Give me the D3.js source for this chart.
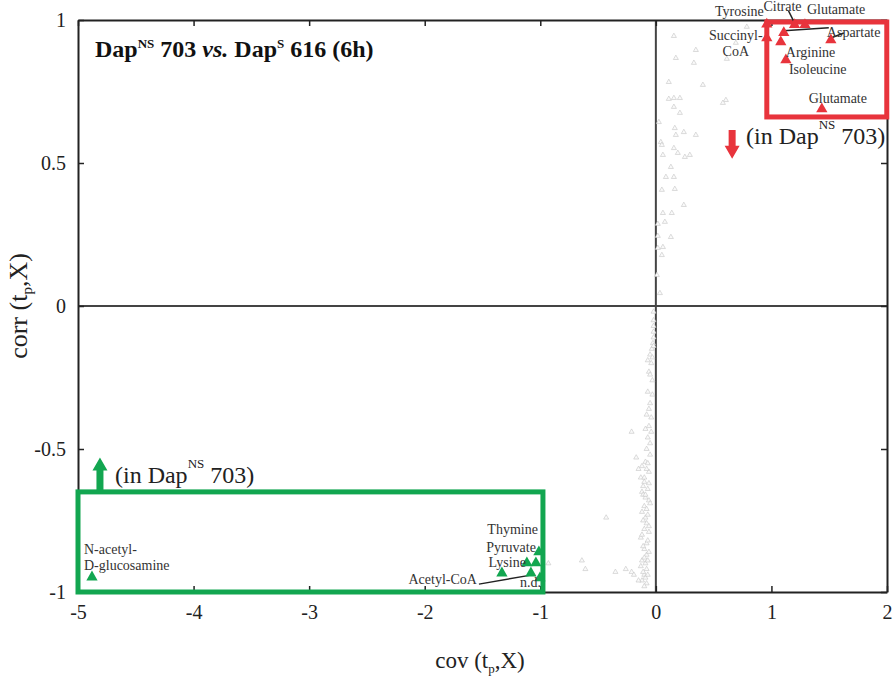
<!DOCTYPE html>
<html lang='en'>
<head>
  <meta charset='UTF-8'>
  <title>cov vs corr</title>
  <script src='https://d3js.org/d3.v7.min.js'></script>
  <style>
    body { margin: 0; background: #fff; }
    #main { width: 894px; height: 677px; }
    text { font-family: 'Liberation Serif', 'Times New Roman', serif; }
  </style>
</head>
<body>
<div id='main'></div>
<script>
  // tick values
  const xTicks = [-5, -4, -3, -2, -1, 0, 1, 2]
  const yTicks = [-1, -0.5, 0, 0.5, 1]

  // background metabolites (grey)
  const greyX = [0.156, 0.346, 0.173, 0.329, 0.614, 0.112, 0.407, 0.112, 0.156, 0.208, 0.606, 0.580, 0.156, 0.208,
    0.026, 0.164, 0.173, 0.242, 0.346, 0.043, 0.052, 0.061, 0.156, 0.190, 0.251, 0.294, 0.130, 0.156, 0.087, 0.052,
    0.164, 0.242, 0.061, 0.138, 0.078, 0.017, 0.130, 0.017, 0.061, 0.017, 0.052, 0.009, 0.035, 0.787, 0.692,
    -0.02, -0.02, -0.02, -0.02, -0.02, -0.025, -0.035, -0.05, -0.07, -0.04, -0.06, -0.03, -0.07, -0.03, -0.05, -0.06,
    -0.08, -0.09, -0.21, -0.04, -0.07, -0.05, -0.08, -0.17, -0.09, -0.12, -0.15, -0.06, -0.13, -0.10, -0.06, -0.12,
    -0.09, -0.06, -0.10, -0.08, -0.09, -0.43, -0.08, -0.10, -0.06, -0.13, -0.08, -0.10, -0.08, -0.12, -0.09, -0.08,
    -0.13, -0.35, -0.26, -0.21, -0.19, -0.10, -0.09, -0.64, -0.61, -0.05, -0.07, -0.11, -0.07, -0.11, -0.05, -0.12,
    -0.07, -0.11, -0.06, -0.12, -0.07, -0.11, -0.06, -0.10, -0.07, -0.11, -0.07, -0.12, -0.08, -0.10, -0.15, -0.09,
    -0.10, -0.08, -0.06, -0.04, -0.05, -0.03, -0.02, -0.93]
  const greyY = [0.944, 0.895, 0.867, 0.850, 0.864, 0.783, 0.773, 0.724, 0.727, 0.727, 0.720, 0.710, 0.696, 0.675,
    0.643, 0.622, 0.598, 0.608, 0.598, 0.573, 0.563, 0.528, 0.552, 0.535, 0.521, 0.528, 0.486, 0.451, 0.451, 0.406,
    0.409, 0.353, 0.325, 0.325, 0.294, 0.287, 0.241, 0.245, 0.206, 0.203, 0.178, 0.108, 0.045, 0.976, 0.920,
    -0.02, -0.05, -0.07, -0.09, -0.11, -0.13, -0.15, -0.17, -0.19, -0.20, -0.23, -0.26, -0.30, -0.31, -0.34, -0.36,
    -0.38, -0.43, -0.44, -0.44, -0.46, -0.48, -0.50, -0.53, -0.545, -0.56, -0.57, -0.58, -0.60, -0.615, -0.62, -0.65,
    -0.67, -0.68, -0.70, -0.71, -0.74, -0.74, -0.76, -0.78, -0.79, -0.81, -0.83, -0.85, -0.87, -0.89, -0.90, -0.92,
    -0.91, -0.93, -0.92, -0.93, -0.94, -0.94, -0.95, -0.89, -0.92, -0.52, -0.55, -0.63, -0.64, -0.66, -0.69, -0.72,
    -0.73, -0.75, -0.77, -0.80, -0.82, -0.84, -0.86, -0.88, -0.89, -0.93, -0.94, -0.96, -0.97, -0.98, -0.96, -0.66,
    -0.60, -0.57, -0.42, -0.39, -0.24, -0.18, -0.14, -0.90]

  // higher in Dap^NS 703 (red, top right)
  const redNames = ['Tyrosine', 'Succinyl-CoA', 'Citrate', 'Glutamate', 'Aspartate', 'Arginine', 'Aspartate', 'Isoleucine', 'Glutamate']
  const redX = [0.96, 0.96, 1.20, 1.29, 1.107, 1.081, 1.514, 1.125, 1.436]
  const redY = [0.985, 0.937, 0.983, 0.983, 0.955, 0.923, 0.930, 0.860, 0.689]

  // lower in Dap^NS 703 (green, bottom left)
  const greenNames = ['Thymine', 'Lysine', 'Pyruvate', 'Lysine', 'Acetyl-CoA', 'n.d.', 'N-acetyl-D-glucosamine']
  const greenX = [-1.012, -1.116, -1.038, -1.332, -1.081, -1.003, -4.879]
  const greenY = [-0.860, -0.899, -0.899, -0.934, -0.934, -0.951, -0.948]

  const red = '#e8343c'
  const green = '#12a650'
  const labelFill = '#333'

  const width = 894
  const height = 677
  const margin = {top: 20, right: 7, bottom: 85, left: 78}

  const svg = d3.select('#main').append('svg')
    .attr('width', width)
    .attr('height', height)

  const x = d3.scaleLinear().domain([-5, 2]).range([margin.left, width - margin.right])
  const y = d3.scaleLinear().domain([-1, 1]).range([height - margin.bottom, margin.top])

  // zero lines
  svg.append('line')
    .attr('x1', x(0)).attr('x2', x(0)).attr('y1', y(1)).attr('y2', y(-1))
    .attr('stroke', '#444').attr('stroke-width', 2)
  svg.append('line')
    .attr('x1', x(-5)).attr('x2', x(2)).attr('y1', y(0)).attr('y2', y(0))
    .attr('stroke', '#444').attr('stroke-width', 2)

  // grey scatter
  const tri = d3.symbol().type(d3.symbolTriangle)
  svg.append('g').selectAll('path')
    .data(d3.range(greyX.length))
    .enter().append('path')
    .attr('d', tri.size(11)())
    .attr('transform', i => `translate(${x(greyX[i])},${y(greyY[i])})`)
    .attr('fill', '#fafafa')
    .attr('stroke', '#c4c4c4')
    .attr('stroke-width', 0.6)

  // frame + axes (ticks inside)
  const fmt = d => String(d)
  svg.append('g').attr('transform', `translate(0,${y(-1)})`)
    .call(d3.axisBottom(x).tickValues(xTicks).tickSizeInner(-6).tickSizeOuter(0).tickPadding(13).tickFormat(fmt))
  svg.append('g').attr('transform', `translate(0,${y(1)})`)
    .call(d3.axisTop(x).tickValues(xTicks).tickSizeInner(-6).tickSizeOuter(0).tickFormat(''))
  svg.append('g').attr('transform', `translate(${x(-5)},0)`)
    .call(d3.axisLeft(y).tickValues(yTicks).tickSizeInner(-6).tickSizeOuter(0).tickPadding(12).tickFormat(fmt))
  svg.append('g').attr('transform', `translate(${x(2)},0)`)
    .call(d3.axisRight(y).tickValues(yTicks).tickSizeInner(-6).tickSizeOuter(0).tickFormat(''))
  svg.selectAll('.domain').attr('stroke', '#222').attr('stroke-width', 2)
  svg.selectAll('.tick line').attr('stroke', '#222').attr('stroke-width', 1.5)
  svg.selectAll('.tick text')
    .attr('font-family', "'Liberation Serif', serif")
    .attr('font-size', 20)
    .attr('fill', '#222')

  // title
  const title = svg.append('text')
    .attr('x', 95).attr('y', 57)
    .attr('font-size', 24).attr('font-weight', 'bold').attr('fill', '#111')
  title.append('tspan').text('Dap')
  title.append('tspan').attr('dy', -9).attr('font-size', 13).text('NS')
  title.append('tspan').attr('dy', 9).text(' 703 ')
  title.append('tspan').attr('font-style', 'italic').text('vs.')
  title.append('tspan').text(' Dap')
  title.append('tspan').attr('dy', -9).attr('font-size', 13).text('S')
  title.append('tspan').attr('dy', 9).text(' 616 (6h)')

  // axis titles
  const xl = svg.append('text')
    .attr('x', 480).attr('y', 668)
    .attr('text-anchor', 'middle').attr('font-size', 23).attr('fill', '#222')
  xl.append('tspan').text('cov (t')
  xl.append('tspan').attr('dy', 5).attr('font-size', 13).text('p')
  xl.append('tspan').attr('dy', -5).text(',X)')

  const yl = svg.append('text')
    .attr('transform', `translate(27,${y(0)}) rotate(-90)`)
    .attr('text-anchor', 'middle').attr('font-size', 26).attr('fill', '#222')
  yl.append('tspan').text('corr (t')
  yl.append('tspan').attr('dy', 5).attr('font-size', 15).text('p')
  yl.append('tspan').attr('dy', -5).text(',X)')

  // highlight boxes
  svg.append('rect')
    .attr('x', x(0.96)).attr('y', y(0.993))
    .attr('width', x(1.998) - x(0.96)).attr('height', y(0.661) - y(0.993))
    .attr('fill', 'none').attr('stroke', red).attr('stroke-width', 5)
  svg.append('rect')
    .attr('x', x(-5)).attr('y', y(-0.65))
    .attr('width', x(-0.977) - x(-5)).attr('height', y(-1) - y(-0.65))
    .attr('fill', 'none').attr('stroke', green).attr('stroke-width', 5)

  // arrows
  function arrow (cx, tipY, baseY, color) {
    const dir = tipY > baseY ? 1 : -1
    const head = 13 * dir
    const p = [
      [cx - 3.5, baseY], [cx + 3.5, baseY], [cx + 3.5, tipY - head], [cx + 7.5, tipY - head],
      [cx, tipY], [cx - 7.5, tipY - head], [cx - 3.5, tipY - head]
    ]
    svg.append('path').attr('d', d3.line()(p) + 'Z').attr('fill', color)
  }
  arrow(x(0.66), y(0.515), y(0.615), red)
  arrow(x(-4.81), y(-0.53), y(-0.645), green)

  function inDap (px, py) {
    const t = svg.append('text').attr('x', px).attr('y', py)
      .attr('font-size', 24).attr('fill', '#222')
    t.append('tspan').text('(in Dap')
    t.append('tspan').attr('dy', -15).attr('font-size', 13).text('NS')
    t.append('tspan').attr('dy', 15).text(' 703)')
  }
  inDap(x(0.78), y(0.565))
  inDap(x(-4.68), y(-0.62))

  // leader lines
  const leaders = [
    [redX[4], redY[4], 45, -5], [redX[6], redY[6], 13, -7], [redX[2], redY[2], -6, -14]
  ]
  svg.append('g').selectAll('line')
    .data(leaders).enter().append('line')
    .attr('x1', d => x(d[0])).attr('y1', d => y(d[1]) - 2)
    .attr('x2', d => x(d[0]) + d[2]).attr('y2', d => y(d[1]) + d[3])
    .attr('stroke', '#222').attr('stroke-width', 1.5)
  svg.append('line')
    .attr('x1', x(greenX[4])).attr('y1', y(greenY[4]) + 2)
    .attr('x2', x(greenX[4]) - 52).attr('y2', y(greenY[4]) + 11)
    .attr('stroke', '#222').attr('stroke-width', 1.5)

  // highlighted triangles
  svg.append('g').selectAll('path')
    .data(d3.range(redX.length)).enter().append('path')
    .attr('d', tri.size(55)())
    .attr('transform', i => `translate(${x(redX[i])},${y(redY[i])})`)
    .attr('fill', red)
  svg.append('g').selectAll('path')
    .data(d3.range(greenX.length)).enter().append('path')
    .attr('d', tri.size(55)())
    .attr('transform', i => `translate(${x(greenX[i])},${y(greenY[i])})`)
    .attr('fill', green)

  // labels: offset from the point, anchor, text lines
  const redLabels = [
    [0, -3, -8, 'end', ['Tyrosine']],
    [1, -31, 2, 'middle', ['Succinyl-', 'CoA']],
    [2, -12, -14, 'middle', ['Citrate']],
    [3, 2, -11, 'start', ['Glutamate']],
    [6, -4, -3, 'start', ['Aspartate']],
    [5, 5, 15, 'start', ['Arginine']],
    [7, 3, 14, 'start', ['Isoleucine']],
    [8, 16, -6, 'middle', ['Glutamate']]
  ]
  const greenLabels = [
    [0, -1, -18, 'end', ['Thymine']],
    [2, 0, -11, 'end', ['Pyruvate']],
    [3, 24, -6, 'end', ['Lysine']],
    [4, -54, 11, 'end', ['Acetyl-CoA']],
    [5, 1, 9, 'end', ['n.d.']],
    [6, -8, -23, 'start', ['N-acetyl-', 'D-glucosamine']]
  ]
  function drawLabels (list, xs, ys) {
    list.forEach(l => {
      const t = svg.append('text')
        .attr('x', x(xs[l[0]]) + l[1]).attr('y', y(ys[l[0]]) + l[2])
        .attr('text-anchor', l[3]).attr('font-size', 14).attr('fill', labelFill)
      l[4].forEach((s, k) => {
        t.append('tspan').attr('x', x(xs[l[0]]) + l[1]).attr('dy', k ? 16 : 0).text(s)
      })
    })
  }
  drawLabels(redLabels, redX, redY)
  drawLabels(greenLabels, greenX, greenY)
</script>
</body>
</html>
